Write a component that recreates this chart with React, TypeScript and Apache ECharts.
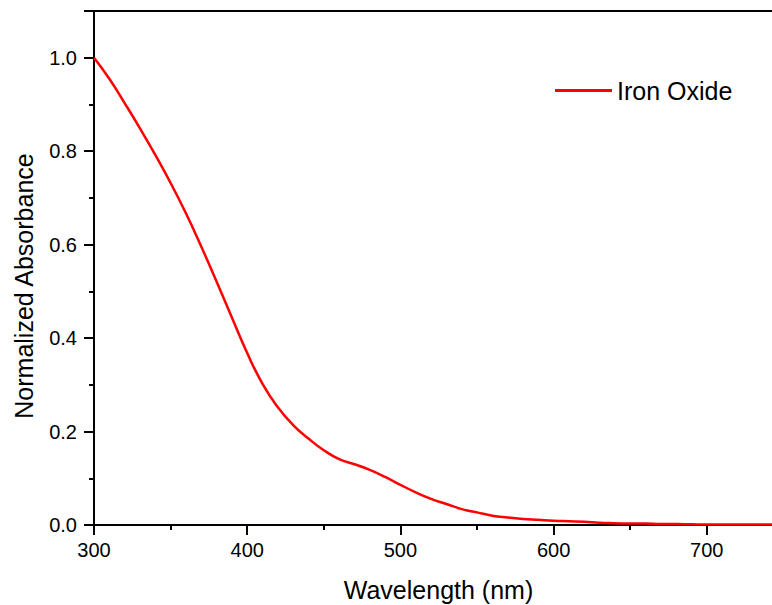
import React, { useEffect, useRef } from "react";
import * as echarts from "echarts";

const wavelengths = [
  300, 310, 320, 330, 340, 350, 360, 370, 380, 390, 400, 410, 420, 430, 440, 450, 460, 470, 480, 490,
  500, 510, 520, 530, 540, 550, 560, 570, 580, 590, 600, 610, 620, 630, 640, 650, 660, 670, 680, 690,
  700, 710, 720, 730, 740, 750, 760, 770, 780, 790, 800,
];
const absorbance = [
  1.0, 0.955, 0.903, 0.849, 0.792, 0.732, 0.667, 0.596, 0.521, 0.444, 0.368, 0.302, 0.252, 0.214, 0.185,
  0.16, 0.141, 0.13, 0.118, 0.103, 0.086, 0.07, 0.056, 0.045, 0.034, 0.027, 0.02, 0.016, 0.013, 0.011,
  0.009, 0.008, 0.007, 0.005, 0.004, 0.003, 0.003, 0.002, 0.002, 0.0015, 0.001, 0.001, 0.001, 0.001,
  0.001, 0.001, 0.001, 0.001, 0.001, 0.001, 0.001,
];
const seriesName = "Iron Oxide";
const xTitle = "Wavelength (nm)";
const yTitle = "Normalized Absorbance";

const FONT = "'Liberation Sans', Arial, sans-serif";

export default function App() {
  const ref = useRef<HTMLDivElement>(null);
  useEffect(() => {
    if (!ref.current) return;
    const chart = echarts.init(ref.current, undefined, { renderer: "svg" });
    const data = wavelengths.map((w, i) => [w, absorbance[i]]);
    const axisLine = { show: true, lineStyle: { color: "#000", width: 2 } };
    chart.setOption({
      animation: false,
      backgroundColor: "#fff",
      textStyle: { fontFamily: FONT },
      grid: { left: 94, top: 11, bottom: 80, right: 0, containLabel: false },
      legend: {
        show: true,
        left: 555,
        top: 78,
        padding: 0,
        itemWidth: 57,
        itemHeight: 3,
        textStyle: { fontSize: 25, color: "#000", fontFamily: FONT },
        data: [{ name: seriesName, icon: "rect" }],
      },
      xAxis: [
        {
          type: "value",
          min: 300,
          max: 800,
          interval: 100,
          position: "bottom",
          axisLine: { ...axisLine, onZero: false },
          axisTick: { show: true, inside: false, length: 10, lineStyle: { color: "#000", width: 2 } },
          minorTick: { show: true, splitNumber: 2, length: 5, lineStyle: { color: "#000", width: 2 } },
          splitLine: { show: false },
          axisLabel: { fontSize: 20, color: "#000", margin: 15, fontFamily: FONT, showMaxLabel: false },
        },
        {
          type: "value",
          min: 300,
          max: 800,
          position: "top",
          axisLine: { ...axisLine, onZero: false },
          axisTick: { show: false },
          splitLine: { show: false },
          axisLabel: { show: false },
        },
      ],
      yAxis: {
        type: "value",
        min: 0,
        max: 1.1,
        interval: 0.2,
        axisLine: { ...axisLine, onZero: false },
        axisTick: { show: true, inside: false, length: 10, lineStyle: { color: "#000", width: 2 } },
        minorTick: { show: true, splitNumber: 2, length: 5, lineStyle: { color: "#000", width: 2 } },
        splitLine: { show: false },
        axisLabel: {
          fontSize: 20,
          color: "#000",
          margin: 17,
          fontFamily: FONT,
          showMaxLabel: false,
          formatter: (v: number) => v.toFixed(1),
        },
      },
      graphic: [
        {
          type: "text",
          x: 438.5,
          y: 590,
          style: {
            text: xTitle,
            fontSize: 25,
            fontFamily: FONT,
            fill: "#000",
            textAlign: "center",
            textVerticalAlign: "middle",
          },
        },
        {
          type: "text",
          x: 24,
          y: 286,
          rotation: Math.PI / 2,
          style: {
            text: yTitle,
            fontSize: 25,
            fontFamily: FONT,
            fill: "#000",
            textAlign: "center",
            textVerticalAlign: "middle",
          },
        },
      ],
      series: [
        {
          name: seriesName,
          type: "line",
          data,
          smooth: true,
          symbol: "none",
          lineStyle: { color: "#ff0000", width: 2.5 },
          itemStyle: { color: "#ff0000" },
        },
      ],
    });
    return () => chart.dispose();
  }, []);
  return <div ref={ref} style={{ position: "fixed", left: 0, top: 0, width: 860, height: 605 }} />;
}
